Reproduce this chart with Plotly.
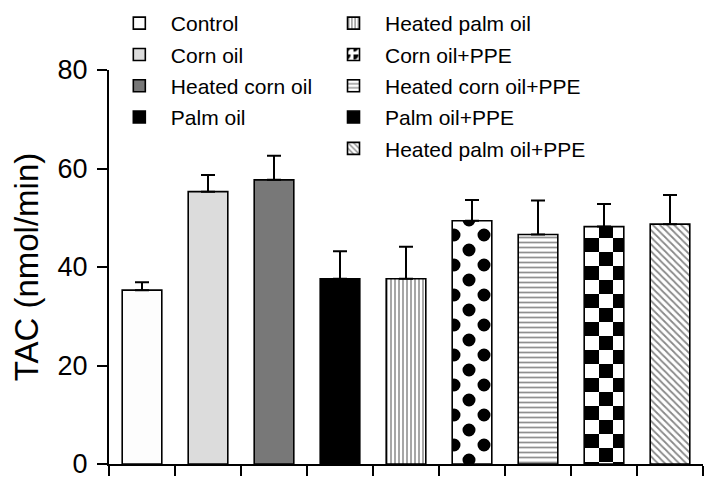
import plotly.graph_objects as go

categories = ["Control", "Corn oil", "Heated corn oil", "Palm oil", "Heated palm oil",
              "Corn oil+PPE", "Heated corn oil+PPE", "Palm oil+PPE", "Heated palm oil+PPE"]
means = [35.3, 55.3, 57.7, 37.6, 37.6, 49.4, 46.6, 48.2, 48.7]
sem = [1.6, 3.4, 4.9, 5.6, 6.5, 4.2, 6.9, 4.6, 5.9]
y_ticks = [0, 20, 40, 60, 80]

FONT = "Liberation Sans, Arial, sans-serif"


def circle(cx, cy, r):
    return f"M{cx - r},{cy} a{r},{r} 0 1,0 {2 * r},0 a{r},{r} 0 1,0 {-2 * r},0 Z"


dots_path = " ".join(circle(cx, cy, 6.5) for cx, cy in [(0, 0), (30, 0), (0, 30), (30, 30), (15, 15)])
checker_path = "M0,0H14V14H0Z M14,14H28V28H14Z"

styles = [
    dict(color="#fdfdfd"),
    dict(color="#dcdcdc"),
    dict(color="#787878"),
    dict(color="#000000"),
    dict(color="white", pattern=dict(shape="|", bgcolor="white", fgcolor="#222222", size=4, solidity=0.4)),
    dict(color="white", pattern=dict(path=dots_path, bgcolor="white", fgcolor="black", size=30,
                                     solidity=1, fgopacity=1)),
    dict(color="white", pattern=dict(shape="-", bgcolor="white", fgcolor="#222222", size=5, solidity=0.35)),
    dict(color="white", pattern=dict(path=checker_path, bgcolor="white", fgcolor="black", size=28,
                                     solidity=1, fgopacity=1)),
    dict(color="white", pattern=dict(shape="\\", bgcolor="white", fgcolor="#111111", size=5, solidity=0.35)),
]

fig = go.Figure()
for i, (name, m, e) in enumerate(zip(categories, means, sem)):
    st = styles[i]
    marker = dict(color=st["color"], line=dict(color="black", width=1.6))
    if "pattern" in st:
        marker["pattern"] = st["pattern"]
    fig.add_trace(go.Bar(
        x=[i], y=[m], name=name, width=0.6,
        marker=marker,
        error_y=dict(type="data", array=[e], arrayminus=[0], symmetric=False,
                     color="black", thickness=2, width=7),
        legend="legend" if i < 4 else "legend2",
        legendgroup=name,
    ))

leg_common = dict(yanchor="top", xanchor="left", font=dict(size=21, family=FONT),
                  bgcolor="rgba(0,0,0,0)", tracegroupgap=1, itemwidth=53)

# page body adds an 8px offset; figure sized so that page = 719x490
fig.update_layout(
    width=703, height=474,
    margin=dict(l=101, r=8, t=62, b=18, autoexpand=False),
    paper_bgcolor="white", plot_bgcolor="white",
    barmode="overlay",
    font=dict(family=FONT, color="black"),
    showlegend=True,
    legend=dict(x=-0.002, y=1.17, **leg_common),
    legend2=dict(x=0.3586, y=1.17, **leg_common),
)

fig.update_xaxes(
    range=[-0.5, len(categories) - 0.5],
    tickvals=[k - 0.5 for k in range(len(categories) + 1)],
    showticklabels=False, ticks="outside", ticklen=10, tickwidth=2, tickcolor="black",
    showline=True, linecolor="black", linewidth=2,
    showgrid=False, zeroline=False,
)
fig.update_yaxes(
    range=[0, 80], tickvals=y_ticks,
    ticks="outside", ticklen=10, tickwidth=2, tickcolor="black",
    showline=True, linecolor="black", linewidth=2,
    showgrid=False, zeroline=False,
    tickfont=dict(size=27, family=FONT), ticklabelstandoff=4,
    title=dict(text="TAC (nmol/min)", font=dict(size=33, family=FONT), standoff=10),
)

fig.write_html("out.html")
